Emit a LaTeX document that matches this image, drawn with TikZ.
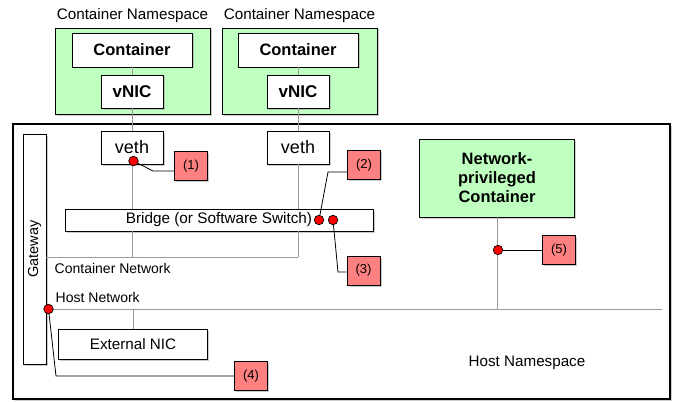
\documentclass[tikz,border=0pt]{standalone}
\usepackage{fontspec}
\setmainfont{Liberation Sans}
\usetikzlibrary{positioning,shadows}

\begin{document}
\begin{tikzpicture}[x=1pt,y=-1pt,thick,
        shade/.style={drop shadow={shadow xshift=1.5pt,shadow yshift=-1.5pt,fill=black!40}},
        nsbox/.style={draw,line width=0.8pt,fill=green!25!white,shade,minimum width=155pt,minimum height=86pt},
        wbox/.style={draw,line width=0.8pt,fill=white,shade,inner sep=0pt},
        tag/.style={draw,line width=0.8pt,fill=red!50!white,shade,minimum width=33pt,minimum height=29pt,font=\fontsize{13}{15}\selectfont},
        dot/.style={circle,draw,line width=0.7pt,fill=red,inner sep=0pt,minimum size=9.5pt},
        wire/.style={draw=black!40,line width=0.9pt},
        lead/.style={draw,line width=0.8pt},
        txt/.style={font=\fontsize{14}{16}\selectfont}]
        \useasboundingbox (0,0) rectangle (676,401);

        % host namespace
        \draw[line width=1.1pt,shade,fill=white] (13,124) rectangle (670,399);
        \node[txt,font=\fontsize{15.2}{18}\selectfont] (hostns) at (527,363) {Host Namespace};

        % container namespaces
        \node[nsbox] (ns1) at (132.5,71) {};
        \node[nsbox] (ns2) at (299.5,71) {};
        \node[txt,font=\fontsize{15.2}{18}\selectfont,above=1pt of ns1] (ns1label) {Container Namespace};
        \node[txt,font=\fontsize{15.2}{18}\selectfont,above=1pt of ns2] (ns2label) {Container Namespace};

        \node[wbox,minimum width=120pt,minimum height=34pt,font=\bfseries\fontsize{16.5}{18}\selectfont] (cont1) at (132,50) {Container};
        \node[wbox,minimum width=62pt,minimum height=33pt,font=\bfseries\fontsize{17}{18}\selectfont] (vnic1) at (132,91.5) {vNIC};
        \node[wbox,minimum width=120pt,minimum height=34pt,font=\bfseries\fontsize{16.5}{18}\selectfont] (cont2) at (298,50) {Container};
        \node[wbox,minimum width=62pt,minimum height=33pt,font=\bfseries\fontsize{17}{18}\selectfont] (vnic2) at (298,91.5) {vNIC};

        % veth pairs and bridge
        \node[wbox,minimum width=62pt,minimum height=33pt,font=\fontsize{18}{20}\selectfont] (veth1) at (132,147.5) {veth};
        \node[wbox,minimum width=62pt,minimum height=33pt,font=\fontsize{18}{20}\selectfont] (veth2) at (298,147.5) {veth};
        \node[wbox,minimum width=308pt,minimum height=22pt,font=\fontsize{15.3}{18}\selectfont] (bridge) at (219,220) {Bridge (or Software Switch)};

        \node[wbox,minimum width=23pt,minimum height=230pt] (gw) at (34.5,249) {};
        \node[rotate=90,font=\fontsize{14.5}{16}\selectfont] (gwlabel) at (gw) {Gateway};

        \node[wbox,minimum width=149pt,minimum height=30pt,font=\fontsize{15.2}{18}\selectfont] (extnic) at (133,344) {External NIC};

        \node[nsbox,minimum height=78pt,align=center,font=\bfseries\fontsize{16.5}{19}\selectfont] (priv) at (497,178) {Network-\\privileged\\Container};

        % networks
        \coordinate (cnet) at (298,257);
        \coordinate (hnet) at (662,309);
        \draw[wire] (gw.east |- cnet) -- (cnet);
        \draw[wire] (gw.east |- hnet) -- (hnet);
        \node[txt,anchor=west] (cnetlabel) at (51,268) {Container Network};
        \node[txt,anchor=west] (hnetlabel) at (52,297) {Host Network};

        \draw[wire] (cont1) -- (vnic1);
        \draw[wire] (vnic1) -- (veth1);
        \draw[wire] (veth1) -- (veth1 |- bridge.north);
        \draw[wire] (veth1 |- bridge.south) -- (veth1 |- cnet);
        \draw[wire] (cont2) -- (vnic2);
        \draw[wire] (vnic2) -- (veth2);
        \draw[wire] (veth2) -- (veth2 |- bridge.north);
        \draw[wire] (veth2 |- bridge.south) -- (cnet);
        \draw[wire] (extnic) -- (extnic |- hnet);
        \draw[wire] (priv) -- (priv |- hnet);

        % numbered points
        \node[dot] (d1) at (133.5,161) {};
        \node[dot] (d2) at (319,220) {};
        \node[dot] (d3) at (333,220) {};
        \node[dot] (d4) at (48.5,309) {};
        \node[dot] (d5) at (498,250) {};

        \node[tag] (t1) at (191,166) {(1)};
        \node[tag] (t2) at (364,165) {(2)};
        \node[tag] (t3) at (363.5,270.5) {(3)};
        \node[tag] (t4) at (251,376) {(4)};
        \node[tag] (t5) at (559,250) {(5)};

        \draw[lead] (d1) -- (153,171) -- (t1.west |- 0,171);
        \draw[lead] (d2) -- (328,172) -- (t2.west |- 0,172);
        \draw[lead] (d3) -- (338,272) -- (t3.west |- 0,272);
        \draw[lead] (d4) -- (56,376) -- (t4.west);
        \draw[lead] (d5) -- (t5);
    \end{tikzpicture}
\end{document}
